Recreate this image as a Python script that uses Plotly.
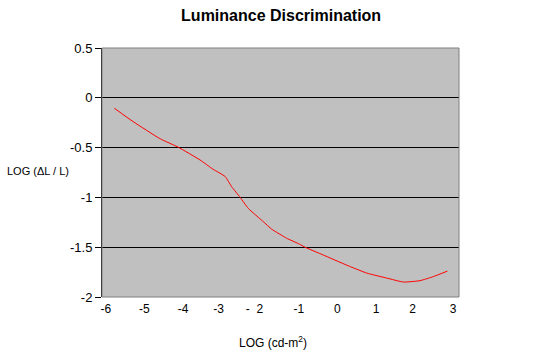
import plotly.graph_objects as go

# Curve
log_luminance = [-5.78, -5.29, -4.60, -4.12, -3.56, -3.22, -2.91, -2.74, -2.52, -2.31,
                 -1.92, -1.70, -1.315, -0.99, -0.84, -0.37, 0.24, 0.76, 1.28, 1.71,
                 2.14, 2.48, 2.85]
log_weber = [-0.105, -0.24, -0.41, -0.497, -0.624, -0.718, -0.79, -0.893, -1.0, -1.11,
             -1.244, -1.32, -1.41, -1.468, -1.50, -1.578, -1.68, -1.76, -1.81, -1.85,
             -1.836, -1.796, -1.74]

x_tick_vals = [-6, -5, -4, -3.08, -2.15, -1, 0, 1, 1.95, 3]
x_tick_text = ["-6", "-5", "-4", "-3", "-  2", "-1", "0", "1", "2", "3"]
y_tick_vals = [0.5, 0, -0.5, -1, -1.5, -2]
y_tick_text = ["0.5", "0", "-0.5", "-1", "-1.5", "-2"]

FONT = "Liberation Sans, Arial, sans-serif"

fig = go.Figure()
fig.add_trace(go.Scatter(
    x=log_luminance, y=log_weber, mode="lines",
    line=dict(color="#FF0000", width=1, shape="spline", smoothing=0.4),
    hoverinfo="skip", showlegend=False,
))

fig.update_layout(
    width=548, height=360,
    margin=dict(l=102, r=89, t=48, b=63),
    paper_bgcolor="white", plot_bgcolor="#C0C0C0",
    font=dict(family=FONT, size=12, color="black"),
    title=dict(text="<b>Luminance Discrimination</b>", x=0.513, xanchor="center",
               y=0.956, yanchor="middle", font=dict(family=FONT, size=16, color="black")),
    xaxis=dict(range=[-6.1, 3.15], tickvals=x_tick_vals, ticktext=x_tick_text,
               showgrid=False, zeroline=False, showline=False, ticks="",
               ticklabelstandoff=3,
               tickfont=dict(size=12), fixedrange=True),
    yaxis=dict(range=[-2, 0.5], tickvals=y_tick_vals, ticktext=y_tick_text,
               showgrid=True, gridcolor="black", gridwidth=1,
               zeroline=True, zerolinecolor="black", zerolinewidth=1,
               showline=True, linecolor="black", linewidth=1,
               ticks="outside", ticklen=6, tickcolor="black",
               tickfont=dict(size=13), fixedrange=True),
    shapes=[dict(type="rect", xref="paper", yref="paper", x0=0, x1=1, y0=0, y1=1,
                 line=dict(color="#808080", width=1), layer="above")],
    annotations=[
        dict(text="LOG (ΔL / L)", xref="paper", yref="paper", x=-0.179, y=0.506,
             xanchor="center", yanchor="middle", showarrow=False,
             font=dict(family=FONT, size=11, color="black")),
        dict(text="LOG (cd-m<sup>2</sup>)", xref="paper", yref="paper", x=0.478, y=-0.18,
             xanchor="center", yanchor="middle", showarrow=False,
             font=dict(family=FONT, size=12, color="black")),
    ],
)

fig.write_html("out.html", config={"displayModeBar": False, "staticPlot": True},
               post_script="document.body.style.margin='0';")
